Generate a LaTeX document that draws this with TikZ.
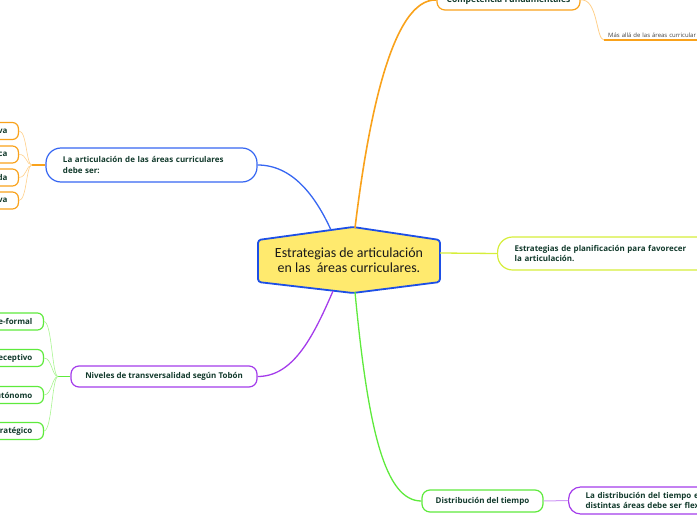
\documentclass[tikz,border=0pt]{standalone}
\usepackage{fontspec}
\setmainfont{Open Sans}
\newfontfamily\rootfont{Carlito}
\usepackage{xcolor}
\usepackage{tikz}
\usetikzlibrary{calc}

\definecolor{ink}{HTML}{123A2C}
\definecolor{rootfill}{HTML}{FFEA6E}
\definecolor{rootblue}{HTML}{1D4FE6}
\definecolor{orangeln}{HTML}{F9A21B}
\definecolor{orangelt}{HTML}{FFD08A}
\definecolor{blueln}{HTML}{3666F2}
\definecolor{purpleln}{HTML}{A43CEB}
\definecolor{purplelt}{HTML}{D09BF5}
\definecolor{greenln}{HTML}{5EEA3C}
\definecolor{greenlt}{HTML}{A8F590}
\definecolor{limeln}{HTML}{D6EE3A}

\tikzset{
	rootnode/.style={font=\rootfont\fontsize{14}{15}\selectfont,text=black!90,align=center,inner sep=0pt},
	topic/.style={draw,fill=white,line width=1.2bp,rounded corners=8bp,text=ink,
		font=\bfseries\fontsize{8}{11}\selectfont,inner sep=0pt},
	wide/.style={topic,rounded corners=15bp,align=left,inner xsep=17bp},
	leaf/.style={topic,rounded corners=6bp,minimum height=17bp,text width=50bp,align=right,inner xsep=11bp,anchor=east},
	twig/.style={line width=0.6bp}
}

\begin{document}
\begin{tikzpicture}[x=1bp,y=-1bp]
		\useasboundingbox (0,0) rectangle (697,520);
		\clip (0,0) rectangle (697,520);
		% central topic
		\coordinate (c) at (349,260);
		\draw[rootblue,line width=1.8bp,fill=rootfill,rounded corners=3bp]
			($(c)+(-91,-20)$) -- ($(c)+(4,-33)$) -- ($(c)+(91,-20)$) -- ($(c)+(91,22)$)
			-- ($(c)+(4,33)$) -- ($(c)+(-91,22)$) -- cycle;
		\node[rootnode] (root) at (c) {Estrategias de articulación\\ en las\ \ áreas curriculares.};
		\coordinate (rtop) at ($(c)+(6,-32)$);
		\coordinate (rnw) at ($(c)+(-18,-30)$);
		\coordinate (rsw) at ($(c)+(-16,31)$);
		\coordinate (rbot) at ($(c)+(6,32)$);
		\coordinate (reast) at ($(c)+(91,-7)$);

		% main topics
		\node[topic,draw=orangeln,minimum width=143bp,minimum height=20bp,font=\bfseries\fontsize{8.5}{11}\selectfont] (comp) at (508.5,0) {Competencia Fundamentales};
		\node[wide,draw=blueln,text width=177bp,minimum height=34bp] (art) at (151.5,165) {La articulación de las áreas curriculares\\debe ser:};
		\node[topic,draw=purpleln,minimum width=186bp,minimum height=21bp] (niv) at (164,376.5) {Niveles de transversalidad según Tobón};
		\node[wide,draw=limeln,text width=200bp,minimum height=33bp,anchor=west] (plan) at (497,253.5) {Estrategias de planificación para favorecer\\la articulación.};
		\node[topic,draw=greenln,minimum width=121bp,minimum height=22bp] (dist) at (482.5,501) {Distribución del tiempo};

		\draw[orangeln,line width=1.6bp] (rtop) .. controls (368,120) and (392,-2) .. (comp.west);
		\draw[blueln,line width=1.3bp] (rnw) .. controls (315,195) and (292,165) .. (art.east);
		\draw[purpleln,line width=1.3bp] (rsw) .. controls (312,340) and (292,376.5) .. (niv.east);
		\draw[limeln,line width=1.3bp] (reast) -- (plan.west);
		\draw[greenln,line width=1.3bp] (rbot) .. controls (368,430) and (385,501) .. (dist.west);

		% subtopics
		\node[font=\fontsize{6}{7}\selectfont,text=black!75,anchor=south west,inner xsep=4bp,inner ysep=2bp,text width=110bp] (mas) at (604,40) {Más allá de las áreas curricular};
		\draw[orangeln,line width=1.3bp] (mas.south west) -- (mas.south east);
		\draw[orangelt,line width=0.8bp] (comp.east) .. controls (598,-2) and (596,40) .. (mas.south west);

		\node[leaf,draw=orangeln] (art1) at (19,131) {va};
		\node[leaf,draw=orangeln] (art2) at (19,154.5) {ca};
		\node[leaf,draw=orangeln] (art3) at (19,177.5) {da};
		\node[leaf,draw=orangeln] (art4) at (19,200.5) {va};
		\coordinate (artfork) at (32,165);
		\draw[orangeln,line width=1.3bp] (art.west) -- (artfork);
		\foreach \i in {1,...,4}
			\draw[orangelt,twig] (artfork) .. controls (26,165) and (27,\i*23+108) .. (art\i.east);

		\node[leaf,draw=greenln] (niv1) at (44,321.5) {e-formal};
		\node[leaf,draw=greenln] (niv2) at (44,358) {eceptivo};
		\node[leaf,draw=greenln] (niv3) at (44,395) {utónomo};
		\node[leaf,draw=greenln] (niv4) at (44,431) {ratégico};
		\coordinate (nivfork) at (58,376.5);
		\draw[greenln,line width=1.3bp] (niv.west) -- (nivfork);
		\draw[greenlt,twig] (nivfork) .. controls (52,376.5) and (52,321.5) .. (niv1.east);
		\draw[greenlt,twig] (nivfork) .. controls (52,376.5) and (52,358) .. (niv2.east);
		\draw[greenlt,twig] (nivfork) .. controls (52,376.5) and (52,395) .. (niv3.east);
		\draw[greenlt,twig] (nivfork) .. controls (52,376.5) and (52,431) .. (niv4.east);

		\node[wide,draw=purpleln,text width=160bp,minimum height=27bp,rounded corners=12bp,anchor=west] (flex) at (568,500.5) {La distribución del tiempo en\\distintas áreas debe ser flex};
		\draw[purplelt,line width=1bp] (dist.east) -- (flex.west);
	\end{tikzpicture}
\end{document}
